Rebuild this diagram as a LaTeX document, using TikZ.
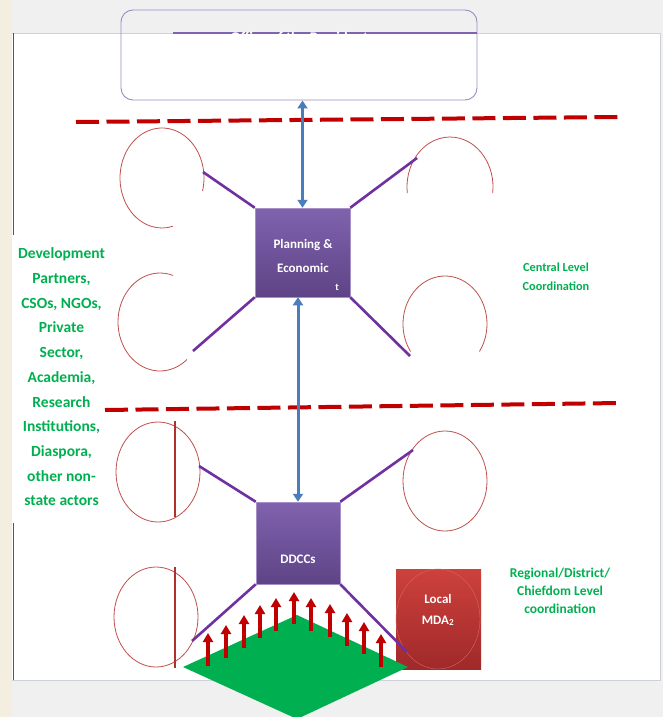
\documentclass[tikz,border=0pt]{standalone}
\usepackage{fontspec}
\setmainfont{Carlito}
\usetikzlibrary{arrows.meta,shapes.geometric}
\definecolor{bggray}{HTML}{F0F0F0}
\definecolor{beige}{HTML}{F3EEDF}
\definecolor{dred}{HTML}{C00000}
\definecolor{ellred}{HTML}{C0504D}
\definecolor{vred}{HTML}{B0302C}
\definecolor{purp}{HTML}{7030A0}
\definecolor{boxtop}{HTML}{8062AE}
\definecolor{boxbot}{HTML}{5E4486}
\definecolor{bluea}{HTML}{4A7EBB}
\definecolor{grn}{HTML}{00B050}
\definecolor{lav}{HTML}{9E8BC4}
\definecolor{mdatop}{HTML}{CD413C}
\definecolor{mdabot}{HTML}{A0292A}
\definecolor{edgegray}{HTML}{CDD2D8}
\begin{document}
\begin{tikzpicture}[x=1pt,y=-1pt,
  ell/.style={draw=ellred, line width=0.8pt},
  vline/.style={draw=vred, line width=1.8pt},
  purpline/.style={draw=purp, line width=2.6pt},
  reddash/.style={draw=dred, line width=4pt, dash pattern=on 23pt off 7.5pt},
  pbox/.style={top color=boxtop, bottom color=boxbot, draw=boxtop!70!white, line width=0.5pt, inner sep=0pt},
  bluearrow/.style={draw=bluea, line width=3pt, {Triangle[width=10pt,length=8pt]}-{Triangle[width=10pt,length=8pt]}},
  uparrow/.style={draw=dred, line width=3.5pt, -{Triangle[width=10pt,length=9pt]}},
  wtext/.style={text=white, font=\fontsize{13}{24}\selectfont\bfseries, align=center, inner sep=0pt},
  gtext/.style={text=grn, align=center, inner sep=0pt},
]
\useasboundingbox (0,0) rectangle (663,717);
\clip (0,0) rectangle (663,717);
% background
\fill[bggray] (0,0) rectangle (663,717);
\fill[beige] (0,0) rectangle (12,717);
\fill[white] (12,33) rectangle (660,680);
\draw[edgegray, line width=0.8pt] (12,33) -- (660,33) -- (660,680) -- (12,680);
% left red border segments
\coordinate (lb1) at (13,33);
\coordinate (lb2) at (13,235);
\coordinate (lb3) at (13,523);
\coordinate (lb4) at (13,680);
\draw[vred, line width=1pt] (lb1) -- (lb2);
\draw[vred, line width=1pt] (lb3) -- (lb4);
% dashed level separators
\coordinate (d1a) at (76,122);
\coordinate (d1b) at (620,117);
\coordinate (d2a) at (105,410);
\coordinate (d2b) at (620,403);
\draw[reddash] (d1a) -- (d1b);
\draw[reddash] (d2a) -- (d2b);
% top box
\node[draw=lav, line width=0.9pt, rounded corners=12pt, minimum width=356pt, minimum height=90pt, inner sep=0pt] (pres) at (299,55) {};
\coordinate (ofl) at (173,33);
\draw[boxtop, line width=2pt] (ofl) -- (ofl -| pres.east);
\begin{scope}
\clip (226,31.5) rectangle (373,34.5);
\node[anchor=north, inner sep=0pt, text=white, font=\fontsize{14.8}{16}\selectfont\bfseries] (offtxt) at (299.5,31.6) {Office of the President};
\end{scope}
% ellipses centres
\coordinate (e1) at (162,178);
\coordinate (e2) at (160,322);
\coordinate (e3) at (450,187);
\coordinate (e4) at (445,324);
\coordinate (e5) at (158,472);
\coordinate (e6) at (156,617);
\coordinate (e7) at (445,481);
\draw[ell] ([shift={(-15:42pt and 50pt)}]e1) arc[start angle=-15, end angle=285, x radius=42pt, y radius=50pt];
\draw[ell] ([shift={(72:42pt and 49pt)}]e2) arc[start angle=72, end angle=310, x radius=42pt, y radius=49pt];
\draw[ell] ([shift={(-7:43pt and 50pt)}]e3) arc[start angle=-7, end angle=187, x radius=43pt, y radius=50pt];
\draw[ell] ([shift={(-35:42pt and 48pt)}]e4) arc[start angle=-35, end angle=215, x radius=42pt, y radius=48pt];
\draw[ell] (e5) ellipse[x radius=42pt, y radius=50pt];
\draw[ell] (e6) ellipse[x radius=42pt, y radius=50pt];
\draw[ell] (e7) ellipse[x radius=42pt, y radius=50pt];
% vertical lines in lower-left ellipses
\coordinate (v1a) at (175,421);
\coordinate (v1b) at (175,517);
\coordinate (v2a) at (175,567);
\coordinate (v2b) at (175,668);
\draw[vline] (v1a) -- (v1b);
\draw[vline] (v2a) -- (v2b);
% boxes
\node[pbox, minimum width=95pt, minimum height=89pt] (plan) at (302.5,252.5) {};
\node[pbox, minimum width=84pt, minimum height=82pt] (ddcc) at (298,543) {};
\node[minimum width=85pt, minimum height=100pt, top color=mdatop, bottom color=mdabot, inner sep=0pt] (mda) at (438.5,619) {};
\coordinate (e8) at (438,619);
\draw[draw=mdatop!80!white, line width=0.4pt] (e8) ellipse[x radius=42pt, y radius=50pt];
% purple connectors
\coordinate (p1) at (203,172);
\coordinate (p2) at (193,351);
\coordinate (p3) at (417,158);
\coordinate (p4) at (410,356);
\coordinate (p5) at (199,466);
\coordinate (p6) at (192,641);
\coordinate (p7) at (413,450);
\coordinate (p8) at (407,652);
\draw[purpline] (p1) -- (plan.north west);
\draw[purpline] (p2) -- (plan.south west);
\draw[purpline] (plan.north east) -- (p3);
\draw[purpline] (plan.south east) -- (p4);
\draw[purpline] (p5) -- (ddcc.north west);
\draw[purpline] (p6) -- (ddcc.south west);
\draw[purpline] (ddcc.north east) -- (p7);
\draw[purpline] (ddcc.south east) -- (p8);
% blue arrows
\draw[bluearrow] (plan.north) -- (plan.north |- pres.south);
\draw[bluearrow] (ddcc.north) -- (ddcc.north |- plan.south);
% green diamond
\coordinate (gl) at (183,667);
\coordinate (gt) at (297,615);
\coordinate (gr) at (408,667);
\coordinate (gb) at (297,719);
\fill[grn] (gl) -- (gt) -- (gr) -- (gb) -- cycle;
% red upward arrows
\foreach \x/\t/\b in {208/633/666, 226/625/658, 244/615/648, 260/605/638, 276/598/631, 294/592/624, 311/598/631, 330/604/637, 347/613/646, 364/622/654, 381/634/667}{
  \draw[uparrow] (\x,\b) -- (\x,\t);
}
% texts
\node[wtext] (plantxt) at (303,256) {Planning \&\\Economic};
\node[text=white, font=\fontsize{10}{11}\selectfont\bfseries, inner sep=0pt] (plansmall) at (337,287) {t};
\node[wtext] (ddcctxt) at (298,559) {DDCCs};
\node[wtext, font=\fontsize{13}{21}\selectfont\bfseries] (mdatxt) at (438,610) {Local\\MDA\textsubscript{2}};
\node[gtext, font=\fontsize{15.5}{24.7}\selectfont\bfseries] (dptxt) at (61.5,377) {Development\\Partners,\\CSOs, NGOs,\\Private\\Sector,\\Academia,\\Research\\Institutions,\\Diaspora,\\other non-\\state actors};
\node[gtext, font=\fontsize{12.3}{19}\selectfont\bfseries] (cltxt) at (556,277) {Central Level\\Coordination};
\node[gtext, font=\fontsize{13.5}{18}\selectfont\bfseries] (rltxt) at (560,591) {Regional/District/\\Chiefdom Level\\coordination};
\end{tikzpicture}
\end{document}
